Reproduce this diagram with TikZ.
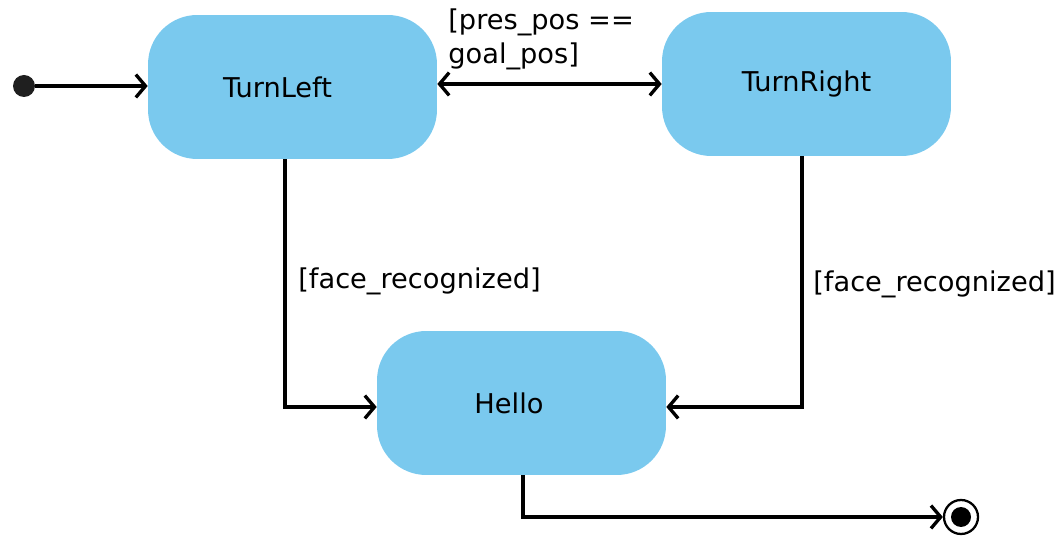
\documentclass[tikz,border=0pt]{standalone}
\usepackage{fontspec}
\setmainfont{DejaVu Sans}
\usetikzlibrary{arrows.meta}
\definecolor{statefill}{RGB}{122,201,238}
\tikzset{
  state/.style={fill=statefill, rounded corners=28pt, minimum width=5.78cm, minimum height=2.88cm, inner sep=0pt, font=\fontsize{15.5}{18}\selectfont},
  guard/.style={font=\fontsize{15.5}{19}\selectfont, inner sep=0pt, align=left},
  barb/.tip={Straight Barb[length=5.5pt, width=13pt, line width=1.9pt]},
  trans/.style={line width=2.1pt, -{barb}}
}
\begin{document}
\begin{tikzpicture}[x=0.02cm, y=-0.02cm]
		%%%%% START %%%%%
		\useasboundingbox (0, 0) rectangle (1062, 536);
		
		\node[state] (turnleft) at (292.5, 87) {TurnLeft\hspace*{0.6cm}};
		\node[state] (turnright) at (806.5, 84) {TurnRight};
		\node[state] (hello) at (521.5, 403) {Hello\hspace*{0.5cm}};
		
		\node[circle, fill=black!88, minimum size=0.44cm, inner sep=0pt] (start) at (24, 86) {};
		\node[circle, draw=black, line width=1.3pt, minimum size=0.68cm, inner sep=0pt] (stop) at (961, 517) {};
		\node[circle, fill=black, minimum size=0.4cm, inner sep=0pt] at (stop) {};
		
		\draw[trans] (start) -- (turnleft.west |- start);
		\draw[trans, {barb}-{barb}] (turnleft.east |- turnright) -- (turnright.west);
		\node[guard, anchor=south west] (posguard) at (448, 70) {[pres\_pos ==\\goal\_pos]};
		
		\draw[trans] ([xshift=-0.15cm]turnleft.south) |- ([yshift=-0.08cm]hello.west);
		\node[guard, anchor=west] (leftguard) at (298, 281) {[face\_recognized]};
		
		\draw[trans] ([xshift=-0.09cm]turnright.south) |- ([yshift=-0.08cm]hello.east);
		\node[guard, anchor=west] (rightguard) at (813, 284) {[face\_recognized]};
		
		\draw[trans] ([xshift=0.03cm]hello.south) |- (stop.west);
		%%%%% END %%%%%
\end{tikzpicture}
\end{document}
